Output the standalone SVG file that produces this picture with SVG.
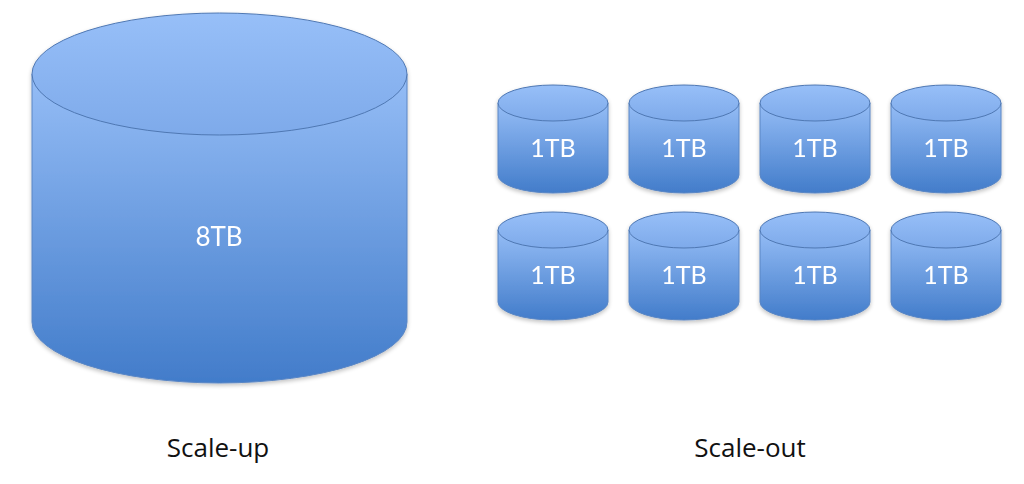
<svg xmlns="http://www.w3.org/2000/svg" width="1024" height="484" viewBox="0 0 1024 484">
<defs>
<linearGradient id="body" x1="0" y1="0" x2="0" y2="1">
<stop offset="0" stop-color="#95bdf6"/>
<stop offset="1" stop-color="#427cca"/>
</linearGradient>
<linearGradient id="top" x1="0" y1="0" x2="0" y2="1">
<stop offset="0" stop-color="#97bff8"/>
<stop offset="1" stop-color="#7eaaea"/>
</linearGradient>
<filter id="sh" x="-10%" y="-10%" width="120%" height="125%">
<feGaussianBlur in="SourceAlpha" stdDeviation="2"/>
<feOffset dy="2"/>
<feComponentTransfer><feFuncA type="linear" slope="0.25"/></feComponentTransfer>
<feMerge><feMergeNode/><feMergeNode in="SourceGraphic"/></feMerge>
</filter>
</defs>
<style>
.b{fill:url(#body);stroke:#5a86c4;stroke-width:1}
.t{fill:url(#top);stroke:#4f78b3;stroke-width:1}
.l{font-family:Lato,"Open Sans",sans-serif;font-size:25px;fill:#ffffff;text-anchor:middle}
.c{font-family:"Open Sans",Lato,sans-serif;font-size:26px;fill:#111111;text-anchor:middle}
</style>
<rect width="1024" height="484" fill="#ffffff"/>
<g id="big" filter="url(#sh)">
<path class="b" d="M32,74 L32,322 A187.5,61 0 0 0 407,322 L407,74 Z"/>
<ellipse class="t" cx="219.5" cy="74" rx="187.5" ry="61"/>
<text class="l" x="219" y="246" style="font-size:26px">8TB</text>
</g>
<g id="c1" filter="url(#sh)"><path class="b" d="M498,103 L498,175 A55,18 0 0 0 608,175 L608,103 Z"/><ellipse class="t" cx="553" cy="103" rx="55" ry="18"/><text class="l" x="553" y="157">1TB</text></g>
<g id="c2" filter="url(#sh)"><path class="b" d="M629,103 L629,175 A55,18 0 0 0 739,175 L739,103 Z"/><ellipse class="t" cx="684" cy="103" rx="55" ry="18"/><text class="l" x="684" y="157">1TB</text></g>
<g id="c3" filter="url(#sh)"><path class="b" d="M760,103 L760,175 A55,18 0 0 0 870,175 L870,103 Z"/><ellipse class="t" cx="815" cy="103" rx="55" ry="18"/><text class="l" x="815" y="157">1TB</text></g>
<g id="c4" filter="url(#sh)"><path class="b" d="M891,103 L891,175 A55,18 0 0 0 1001,175 L1001,103 Z"/><ellipse class="t" cx="946" cy="103" rx="55" ry="18"/><text class="l" x="946" y="157">1TB</text></g>
<g id="c5" filter="url(#sh)"><path class="b" d="M498,230 L498,302 A55,18 0 0 0 608,302 L608,230 Z"/><ellipse class="t" cx="553" cy="230" rx="55" ry="18"/><text class="l" x="553" y="284">1TB</text></g>
<g id="c6" filter="url(#sh)"><path class="b" d="M629,230 L629,302 A55,18 0 0 0 739,302 L739,230 Z"/><ellipse class="t" cx="684" cy="230" rx="55" ry="18"/><text class="l" x="684" y="284">1TB</text></g>
<g id="c7" filter="url(#sh)"><path class="b" d="M760,230 L760,302 A55,18 0 0 0 870,302 L870,230 Z"/><ellipse class="t" cx="815" cy="230" rx="55" ry="18"/><text class="l" x="815" y="284">1TB</text></g>
<g id="c8" filter="url(#sh)"><path class="b" d="M891,230 L891,302 A55,18 0 0 0 1001,302 L1001,230 Z"/><ellipse class="t" cx="946" cy="230" rx="55" ry="18"/><text class="l" x="946" y="284">1TB</text></g>
<g id="labels">
<text class="c" x="218" y="457">Scale-up</text>
<text class="c" x="750" y="457">Scale-out</text>
</g>
</svg>
